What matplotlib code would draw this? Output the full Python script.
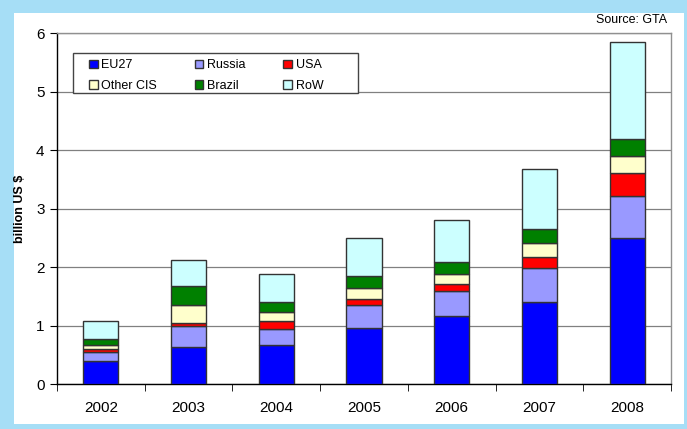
import numpy as np
import matplotlib.pyplot as plt
from matplotlib.patches import Rectangle

plt.rcParams['font.family'] = ['Liberation Sans', 'DejaVu Sans']

# values (billion US $)
years = ['2002', '2003', '2004', '2005', '2006', '2007', '2008']
eu27 = [0.40, 0.64, 0.66, 0.96, 1.16, 1.40, 2.49]
russia = [0.14, 0.35, 0.28, 0.40, 0.43, 0.58, 0.72]
usa = [0.06, 0.05, 0.13, 0.10, 0.12, 0.19, 0.40]
other_cis = [0.06, 0.32, 0.16, 0.19, 0.18, 0.24, 0.29]
brazil = [0.11, 0.31, 0.17, 0.20, 0.19, 0.24, 0.29]
row = [0.31, 0.46, 0.48, 0.65, 0.72, 1.02, 1.66]

series = [('EU27', eu27, '#0000ff'),
          ('Russia', russia, '#9999ff'),
          ('USA', usa, '#ff0000'),
          ('Other CIS', other_cis, '#ffffcc'),
          ('Brazil', brazil, '#008000'),
          ('RoW', row, '#ccffff')]

fig = plt.figure(figsize=(6.87, 4.29), dpi=100)
fig.patch.set_facecolor('#a6def6')
# white panel inside the light blue border
fig.patches.append(Rectangle((14 / 687, 5 / 429), 670 / 687, 411 / 429,
                             transform=fig.transFigure, facecolor='white',
                             edgecolor='none', zorder=-10))

ax = fig.add_axes([57 / 687, 45 / 429, 614 / 687, 350.7 / 429])
ax.set_facecolor('white')

x = np.arange(len(years))
bottom = np.zeros(len(years))
bars = []
for name, vals, col in series:
    b = ax.bar(x, vals, 0.4, bottom=bottom, color=col, edgecolor='#333333',
               linewidth=1, label=name, zorder=3)
    bars.append(b)
    bottom += np.array(vals)

ax.set_xlim(-0.5, len(years) - 0.5)
ax.set_ylim(0, 6)
ax.set_yticks(range(7))
ax.yaxis.grid(True, color='#808080', linewidth=0.9)
ax.set_axisbelow(True)

ax.set_xticks(x)
ax.set_xticklabels(years, fontsize=11)
ax.set_xticks(np.arange(-0.5, len(years)), minor=True)
ax.tick_params(axis='x', which='major', length=0, pad=12)
ax.tick_params(axis='x', which='minor', length=5, direction='out', color='black')
ax.tick_params(axis='y', length=5, direction='out', labelsize=11, pad=4)

for s in ['left', 'bottom']:
    ax.spines[s].set_color('black')
    ax.spines[s].set_linewidth(1)
for s in ['top', 'right']:
    ax.spines[s].set_color('#909090')
    ax.spines[s].set_linewidth(1)

ax.set_ylabel('billion US $', fontsize=9, fontweight='bold')
ax.yaxis.set_label_coords(-0.05, 0.5)

# legend box (Excel style, wider than the entries)
ax.add_patch(Rectangle((0.026, 0.830), 0.464, 0.114, transform=ax.transAxes,
                       facecolor='white', edgecolor='#444444', linewidth=1,
                       zorder=4))
# legend is filled column by column, so reorder to get rows EU27/Russia/USA
order = [0, 3, 1, 4, 2, 5]
leg = ax.legend([bars[i] for i in order], [series[i][0] for i in order],
                ncol=3, loc='upper left', bbox_to_anchor=(0.052, 0.926),
                fontsize=9, frameon=False,
                handlelength=0.7, handleheight=0.7, handletextpad=0.3,
                borderaxespad=0, borderpad=0, labelspacing=0.68,
                columnspacing=3.0)
leg.set_zorder(5)

fig.text(667 / 687, 1 - 20 / 429, 'Source: GTA', ha='right', va='center', fontsize=9)

fig.savefig('out.png', dpi=100, facecolor=fig.get_facecolor())
